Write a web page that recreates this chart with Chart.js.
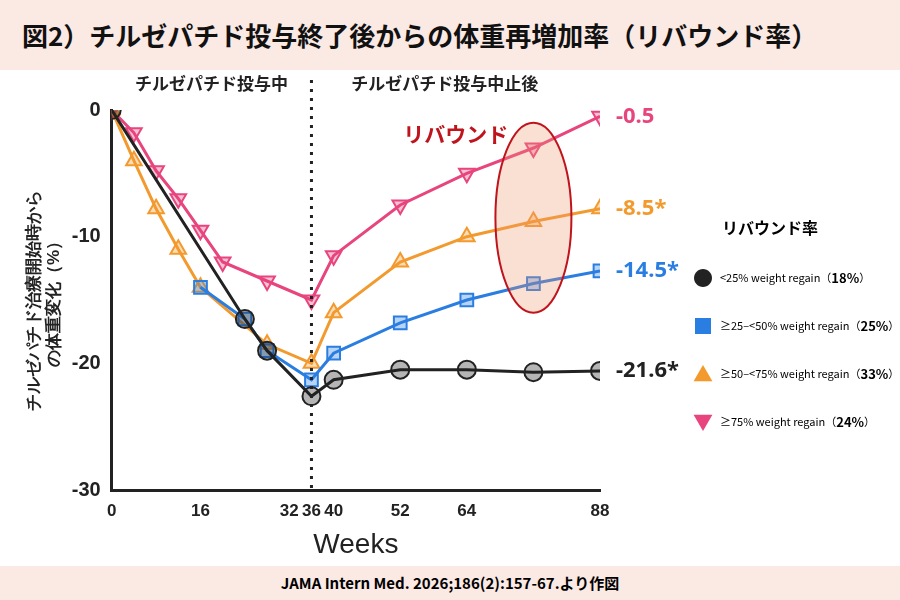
<!DOCTYPE html>
<html>
<head>
<meta charset="utf-8">
<style>
  body { margin:0; width:900px; height:600px; background:#fff; font-family:"Noto Sans CJK JP","Noto Sans",sans-serif; position:relative; overflow:hidden; }
  #title { position:absolute; left:0; top:0; width:900px; height:70px; background:#fbe9e4; font-size:26px; font-weight:bold; line-height:70px; padding-left:22px; box-sizing:border-box; color:#111; }
  #foot { position:absolute; left:0; top:566px; width:900px; height:34px; background:#fbe9e4; font-size:15px; font-weight:bold; text-align:center; line-height:34px; }
  #wrap { position:absolute; left:0; top:70px; width:900px; height:496px; }
  #legend { position:absolute; left:692px; top:215px; font-size:11px; white-space:nowrap; }
  #legend .h { font-weight:bold; font-size:16px; margin-bottom:14px; margin-left:30px; }
  #legend .r { display:flex; align-items:center; height:48px; }
  #legend .r b { font-size:13px; }
  #legend .m { width:22px; text-align:center; margin-right:6px; font-size:20px; }
</style>
</head>
<body>
<div id="title">図2）チルゼパチド投与終了後からの体重再増加率（リバウンド率）</div>
<div id="wrap"><canvas id="c" width="900" height="496"></canvas></div>
<div id="legend">
  <div class="h">リバウンド率</div>
  <div class="r"><span class="m" style="color:#222">●</span>&lt;25% weight regain（<b>18%</b>）</div>
  <div class="r"><span class="m" style="color:#2a7de1">■</span>≥25–&lt;50% weight regain（<b>25%</b>）</div>
  <div class="r"><span class="m" style="color:#f39a2e">▲</span>≥50–&lt;75% weight regain（<b>33%</b>）</div>
  <div class="r"><span class="m" style="color:#e8447e">▼</span>≥75% weight regain（<b>24%</b>）</div>
</div>
<div id="foot">JAMA Intern Med. 2026;186(2):157-67.より作図</div>
<script src="https://cdn.jsdelivr.net/npm/chart.js@4/dist/chart.umd.min.js"></script>
<script>
// weeks and values
const tickWeeks = [0, 16, 32, 36, 40, 52, 64, 88];
const pinkWeeks = [0, 4, 8, 12, 16, 20, 28, 36, 40, 52, 64, 76, 88];
const pinkVals  = [0, -1.8, -4.8, -7, -9.5, -12, -13.5, -15, -11.5, -7.5, -5, -3, -0.5];
const orangeWeeks = [0, 4, 8, 12, 16, 28, 36, 40, 52, 64, 76, 88];
const orangeVals  = [0, -4, -7.8, -11, -14, -18.5, -20, -16, -12, -10, -8.8, -7.8];
const blueWeeks = [16, 24, 28, 36, 40, 52, 64, 76, 88];
const blueVals  = [-14, -16.5, -19, -21.3, -19.2, -16.8, -15, -13.7, -12.7];
const blackWeeks = [0, 24, 28, 36, 40, 52, 64, 76, 88];
const blackVals  = [0, -16.5, -19, -22.6, -21.3, -20.5, -20.5, -20.7, -20.6];
const endLabels = ['-0.5', '-8.5*', '-14.5*', '-21.6*'];

function pts(w, v) { return w.map((x, i) => ({x: x, y: v[i]})); }
function ds(w, v, col, style, rot) {
  return { data: pts(w, v), borderColor: col, backgroundColor: col + '55', borderWidth: 3,
    pointStyle: style, rotation: rot || 0, pointRadius: 9, pointBorderWidth: 2, tension: 0 };
}

const extras = {
  id: 'extras',
  afterDatasetsDraw(chart) {
    const c = chart.ctx, xs = chart.scales.x, ys = chart.scales.y;
    c.save();
    // ellipse around rebound area
    c.fillStyle = 'rgba(240,150,110,0.3)';
    c.strokeStyle = '#c0141c'; c.lineWidth = 2;
    c.beginPath();
    c.ellipse(xs.getPixelForValue(76), ys.getPixelForValue(-8.5), 38, 95, 0, 0, Math.PI * 2);
    c.fill(); c.stroke();
    // dashed line at week 36
    c.setLineDash([3, 6]); c.strokeStyle = '#222'; c.lineWidth = 3;
    c.beginPath();
    c.moveTo(xs.getPixelForValue(36), ys.getPixelForValue(0) - 30);
    c.lineTo(xs.getPixelForValue(36), ys.getPixelForValue(-30));
    c.stroke(); c.setLineDash([]);
    c.font = 'bold 17px "Noto Sans CJK JP"'; c.fillStyle = '#222'; c.textAlign = 'center';
    c.fillText('チルゼパチド投与中', xs.getPixelForValue(18), ys.getPixelForValue(0) - 20);
    c.fillText('チルゼパチド投与中止後', xs.getPixelForValue(60), ys.getPixelForValue(0) - 20);
    c.font = 'bold 21px "Noto Sans CJK JP"'; c.fillStyle = '#c0141c';
    c.fillText('リバウンド', xs.getPixelForValue(62), ys.getPixelForValue(-2.5));
    const cols = ['#e8447e', '#f39a2e', '#2a7de1', '#222'];
    const lastY = [pinkVals.at(-1), orangeVals.at(-1), blueVals.at(-1), blackVals.at(-1)];
    c.font = 'bold 22px "Noto Sans"'; c.textAlign = 'left'; c.textBaseline = 'middle';
    endLabels.forEach((t, i) => {
      c.fillStyle = cols[i];
      c.fillText(t, xs.getPixelForValue(88) + 16, ys.getPixelForValue(lastY[i]));
    });
    c.restore();
  }
};

new Chart(document.getElementById('c'), {
  type: 'line',
  data: { datasets: [
    ds(blackWeeks, blackVals, '#222222', 'circle'),
    ds(blueWeeks, blueVals, '#2a7de1', 'rect'),
    ds(orangeWeeks, orangeVals, '#f39a2e', 'triangle'),
    ds(pinkWeeks, pinkVals, '#e8447e', 'triangle', 180)
  ]},
  options: {
    responsive: false, animation: false,
    layout: { padding: { left: 20, top: 40, right: 300, bottom: 0 } },
    plugins: { legend: { display: false }, tooltip: { enabled: false } },
    scales: {
      x: { type: 'linear', min: 0, max: 88,
        afterBuildTicks: s => { s.ticks = tickWeeks.map(v => ({value: v})); },
        grid: { display: false }, border: { color: '#222', width: 3 },
        ticks: { font: { size: 17, weight: 'bold' }, color: '#222', autoSkip: false, maxRotation: 0 },
        title: { display: true, text: 'Weeks', font: { size: 28 }, color: '#222' } },
      y: { min: -30, max: 0,
        ticks: { stepSize: 10, font: { size: 20, weight: 'bold' }, color: '#222' },
        grid: { display: false }, border: { color: '#222', width: 3 },
        title: { display: true, text: ['チルゼパチド治療開始時から', 'の体重変化（%）'], font: { size: 17, weight: 'bold' }, color: '#222' } }
    }
  },
  plugins: [extras]
});
</script>
</body>
</html>
